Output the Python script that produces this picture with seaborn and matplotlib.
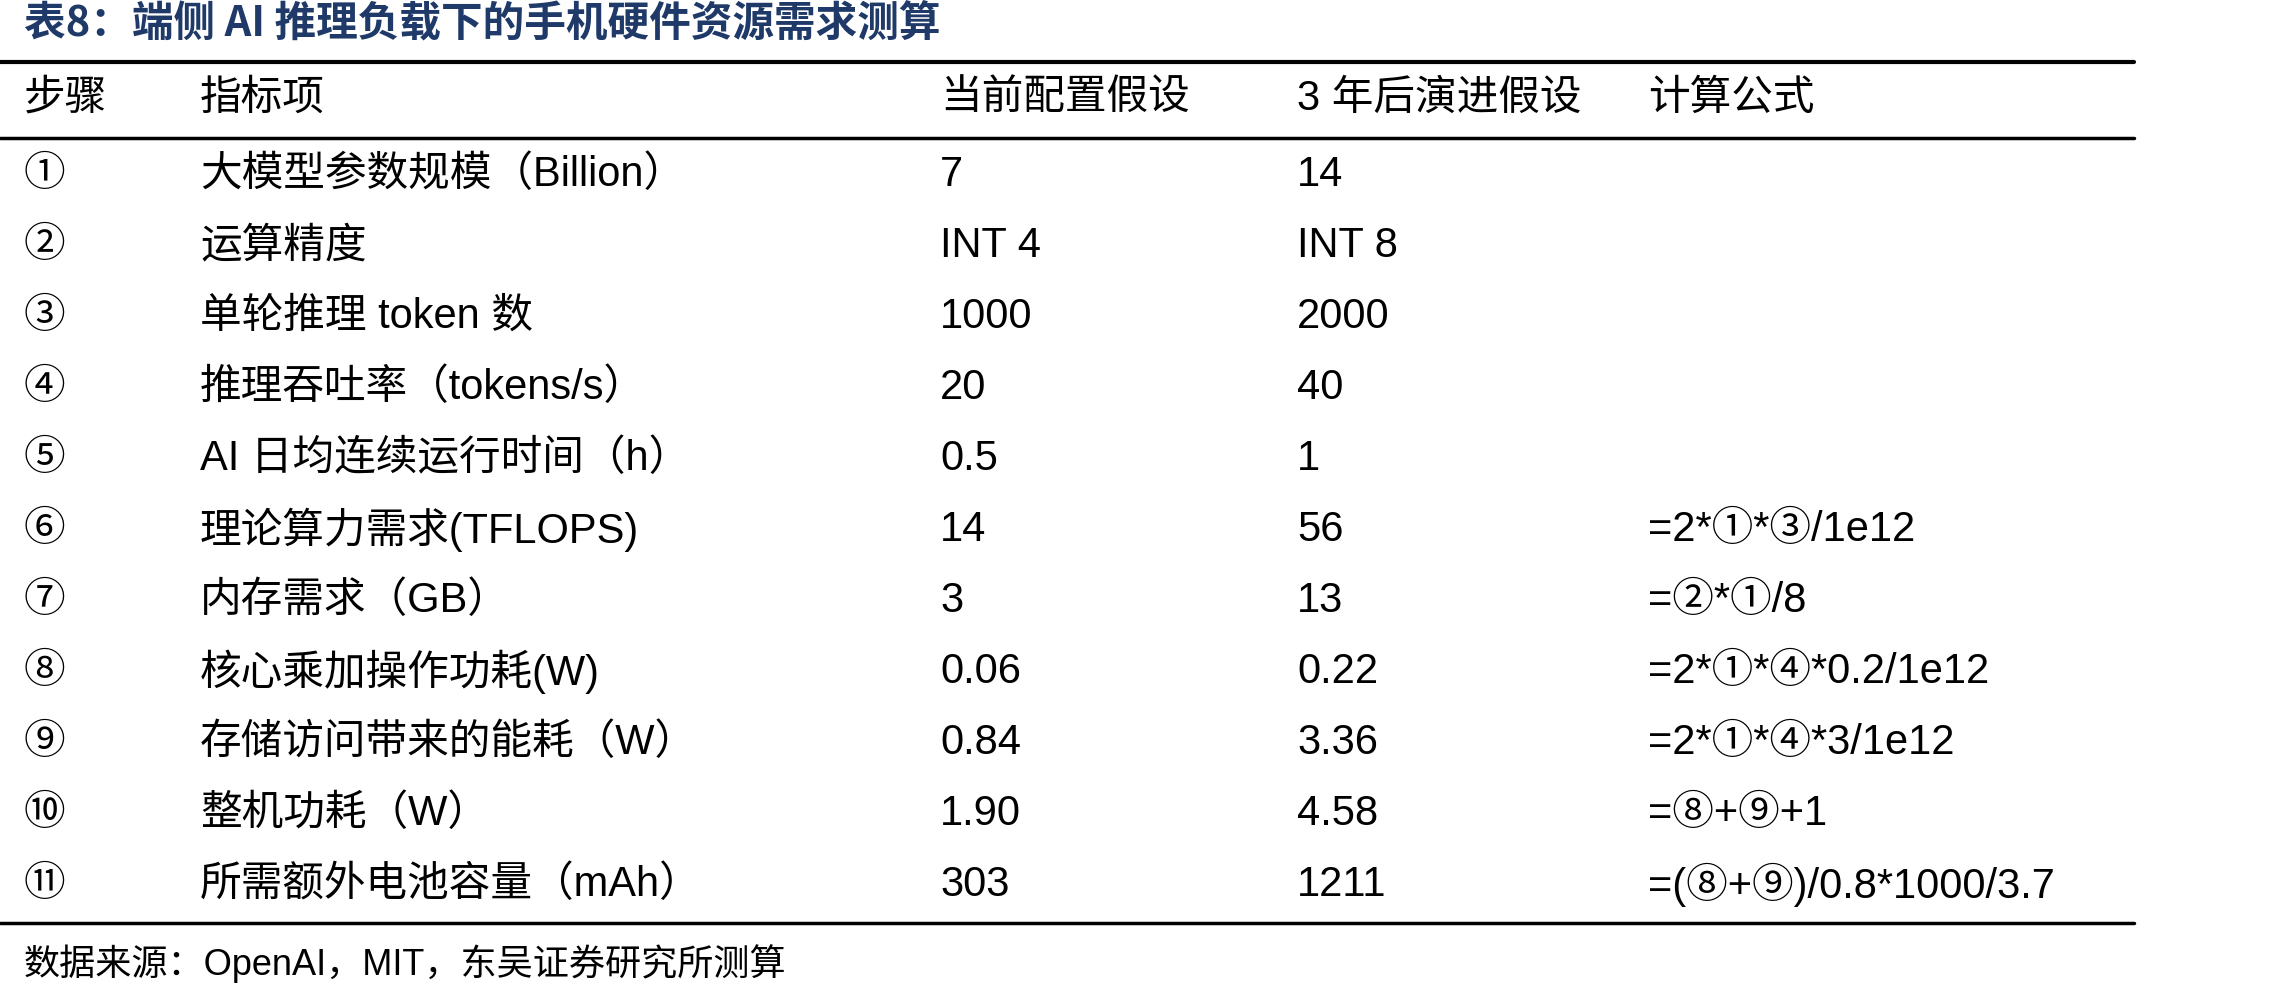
import matplotlib
matplotlib.use("Agg")
import matplotlib.pyplot as plt
import seaborn as sns

sns.set_theme(style="white")
plt.rcParams['font.family'] = ['Liberation Sans', 'Noto Sans CJK SC', 'DejaVu Sans']

title = "表8：端侧 AI 推理负载下的手机硬件资源需求测算"
headers = ["步骤", "指标项", "当前配置假设", "3 年后演进假设", "计算公式"]
steps = ["①", "②", "③", "④", "⑤", "⑥", "⑦", "⑧", "⑨", "⑩", "⑪"]
items = ["大模型参数规模（Billion）", "运算精度", "单轮推理 token 数", "推理吞吐率（tokens/s）",
         "AI 日均连续运行时间（h）", "理论算力需求(TFLOPS)", "内存需求（GB）", "核心乘加操作功耗(W)",
         "存储访问带来的能耗（W）", "整机功耗（W）", "所需额外电池容量（mAh）"]
current = ["7", "INT 4", "1000", "20", "0.5", "14", "3", "0.06", "0.84", "1.90", "303"]
future = ["14", "INT 8", "2000", "40", "1", "56", "13", "0.22", "3.36", "4.58", "1211"]
formula = ["", "", "", "", "", "=2*①*③/1e12", "=②*①/8", "=2*①*④*0.2/1e12",
           "=2*①*④*3/1e12", "=⑧+⑨+1", "=(⑧+⑨)/0.8*1000/3.7"]
source = "数据来源：OpenAI，MIT，东吴证券研究所测算"

fig = plt.figure(figsize=(22.8, 9.95), dpi=100)
ax = fig.add_axes([0, 0, 1, 1])
ax.set_xlim(0, 2280)
ax.set_ylim(995, 0)
ax.axis("off")

cols = [24, 200, 940, 1297, 1648]
fs = 30
ax.text(24, 24, title, fontsize=30, fontweight="bold", color="#1F3A68",
        va="center", family=['Noto Sans CJK SC', 'DejaVu Sans'])
ax.plot([0, 2134], [63, 63], color="black", lw=3)
ax.plot([0, 2134], [139, 139], color="black", lw=2.5)
ax.plot([0, 2134], [924, 924], color="black", lw=2.5)
for x, h in zip(cols, headers):
    ax.text(x, 99, h, fontsize=fs, va="center", color="black")
y0, dy = 175, 71
for i in range(len(steps)):
    y = y0 + i * dy
    for x, v in zip(cols, [steps[i], items[i], current[i], future[i], formula[i]]):
        ax.text(x, y, v, fontsize=fs, va="center", color="black")
ax.text(24, 964, source, fontsize=26, va="center", color="black")
fig.savefig("out.png", dpi=100)
